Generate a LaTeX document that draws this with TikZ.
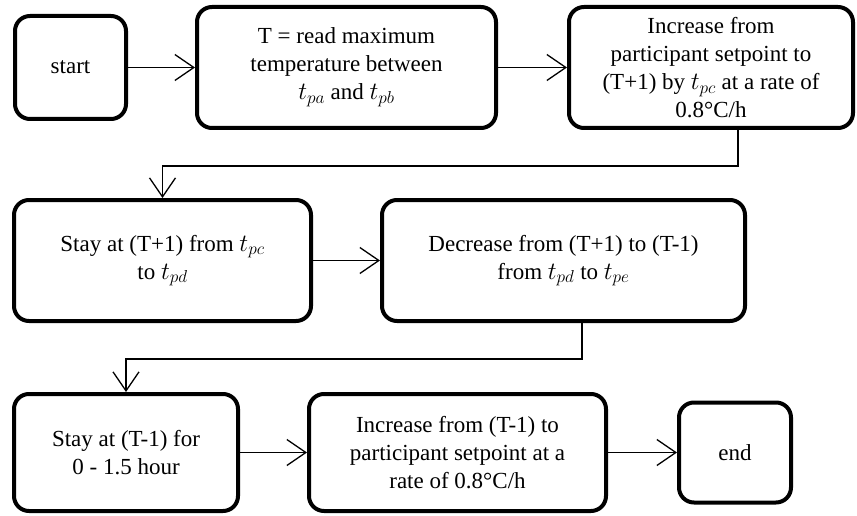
\documentclass[tikz,border=0pt]{standalone}
\usepackage{fontspec}
\setmainfont{Liberation Serif}
\usetikzlibrary{positioning,arrows.meta}

\begin{document}
\begin{tikzpicture}[->,>={Straight Barb[length=19pt,width=26pt]},node distance=67pt,line width=1.3pt,
	stepbox/.style={draw,rectangle,rounded corners=15pt,line width=4pt,align=center,inner sep=0pt,
		font=\fontsize{23pt}{28pt}\selectfont}]
		
		\useasboundingbox (0,0) rectangle (857pt,-516pt);
		
		\node[stepbox,minimum width=111pt,minimum height=103pt] (start) at (70.5pt,-67.5pt) {start};
		\node[stepbox,minimum width=299pt,minimum height=121pt] (readt) [right=of start] {T = read maximum\\temperature between\\$t_{pa}$ and $t_{pb}$};
		\node[stepbox,minimum width=284pt,minimum height=121pt] (incr1) [right=69pt of readt] {Increase from\\participant setpoint to\\(T+1) by $t_{pc}$ at a rate of\\0.8°C/h};
		
		\node[stepbox,minimum width=297pt,minimum height=121pt] (stayhi) at (162.5pt,-260.5pt) {Stay at (T+1) from $t_{pc}$\\to $t_{pd}$};
		\node[stepbox,minimum width=363pt,minimum height=121pt] (decr) [right=of stayhi] {Decrease from (T+1) to (T-1)\\from $t_{pd}$ to $t_{pe}$};
		
		\node[stepbox,minimum width=224pt,minimum height=117pt] (staylo) at (126pt,-452.5pt) {Stay at (T-1) for\\0 - 1.5 hour};
		\node[stepbox,minimum width=297pt,minimum height=117pt] (incr2) [right=of staylo] {Increase from (T-1) to\\participant setpoint at a\\rate of 0.8°C/h};
		\node[stepbox,minimum width=112pt,minimum height=100pt] (finish) [right=69pt of incr2] {end};
		
		\path
		(start) edge (readt)
		(readt) edge (incr1)
		(stayhi) edge (decr)
		(staylo) edge (incr2)
		(incr2) edge (finish)
		;
		\draw ([xshift=27pt]incr1.south) -- ++(0,-36pt) -| (stayhi);
		\draw ([xshift=18.5pt]decr.south) -- ++(0,-36pt) -| (staylo);
		\end{tikzpicture}
\end{document}
